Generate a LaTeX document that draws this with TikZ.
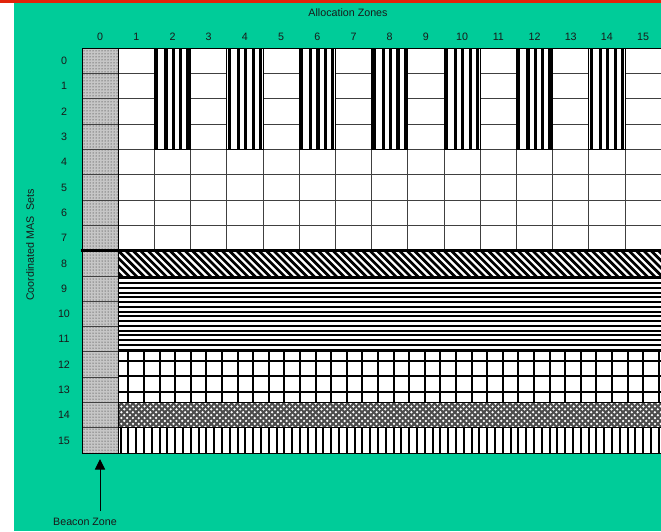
\documentclass[tikz,border=0pt]{standalone}
\usepackage{fontspec}
\setmainfont{Liberation Sans}
\usetikzlibrary{patterns,arrows.meta}
\definecolor{bggreen}{RGB}{0,204,153}
\definecolor{topred}{RGB}{226,35,10}
\begin{document}
\begin{tikzpicture}[x=1pt,y=-1pt,
  lab/.style={font=\fontsize{10.7}{12}\selectfont, inner sep=0pt, text=black!90},
  cellline/.style={draw=black!75, line width=0.9pt},
  bandline/.style={black, line width=2pt},
  bandborder/.style={draw=black, line width=1pt}]
\useasboundingbox (0,0) rectangle (661,531);
% background
\fill[white] (0,0) rectangle (661,531);
\fill[bggreen] (14,3) rectangle (661,531);
\fill[topred] (0,0) rectangle (661,3);
% rows 0-7 white cells
\fill[white] (118.3,48.3) rectangle (661,250.7);
\foreach \j in {1,...,7} \draw[cellline] (118.3,{48.3+\j*25.3}) -- (661,{48.3+\j*25.3});
\foreach \i in {1,...,16} \draw[cellline] ({82+\i*36.2},48.3) -- ({82+\i*36.2},250.7);
\draw[black, line width=1pt] (118.3,48.3) -- (661,48.3);
% striped columns rows 0-3
\foreach \i in {2,4,...,14} {
  \pgfmathsetmacro\L{82+\i*36.2}
  \fill[white] (\L,48.3) rectangle ({\L+36.2},149.5);
  \foreach \o in {2.3,11.5,18.8,26.3,33.6}
    \fill[black] ({\L+\o-1.6},48.3) rectangle ({\L+\o+1.6},149.5);
  \draw[black, line width=1pt] (\L,48.3) rectangle ({\L+36.2},149.5);
}
% row 8 diagonal band
\begin{scope}
  \clip (118.3,250.7) rectangle (661,276);
  \fill[white] (118.3,250.7) rectangle (661,276);
  \foreach \k in {-5,...,74}
    \draw[black, line width=2.7pt] ({116.3+\k*7.4},248.7) -- ({145.6+\k*7.4},278);
\end{scope}
\draw[bandborder] (118.3,250.7) rectangle (661,276);
% rows 9-11 horizontal stripes
\fill[white] (118.3,276) rectangle (661,351.9);
\foreach \k in {0,...,15} \draw[bandline] (118.3,{278.4+\k*4.75}) -- (661,{278.4+\k*4.75});
\draw[bandborder] (118.3,276) rectangle (661,351.9);
% rows 12-13 grid
\fill[white] (118.3,351.9) rectangle (661,402.5);
\foreach \k in {0,...,34} \draw[bandline] ({128.3+\k*15.6},351.9) -- ({128.3+\k*15.6},402.5);
\foreach \y in {360.7,376.3,391.9} \draw[bandline] (118.3,\y) -- (661,\y);
\draw[bandborder] (118.3,351.9) rectangle (661,402.5);
% row 14 crosshatch
\begin{scope}
  \clip (118.3,402.5) rectangle (661,427.8);
  \fill[white] (118.3,402.5) rectangle (661,427.8);
  \foreach \k in {-6,...,96} {
    \draw[black!70, line width=2pt] ({118.3+\k*5.8},400.5) -- ({147.6+\k*5.8},429.8);
    \draw[black!70, line width=2pt] ({118.3+\k*5.8},429.8) -- ({147.6+\k*5.8},400.5);
  }
\end{scope}
\draw[bandborder] (118.3,402.5) rectangle (661,427.8);
% row 15 vertical stripes
\fill[white] (118.3,427.8) rectangle (661,453.1);
\foreach \k in {0,...,69} \draw[bandline] ({120.5+\k*7.8},427.8) -- ({120.5+\k*7.8},453.1);
\draw[bandborder] (118.3,427.8) rectangle (661,453.1);
% beacon column 0
\fill[gray!45] (82,48.3) rectangle (118.3,453.1);
\fill[pattern=dots, pattern color=black!90] (82,48.3) rectangle (118.3,453.1);
\foreach \j in {1,...,15} \draw[cellline] (82,{48.3+\j*25.3}) -- (118.3,{48.3+\j*25.3});
\draw[black, line width=1pt] (82,48.3) rectangle (118.3,453.1);
% thick separator above row 8
\draw[black, line width=2.6pt] (80.5,250.7) -- (661,250.7);
% labels
\node[lab] (alloc) at (348,13) {Allocation Zones};
\foreach \i in {0,...,15} \node[lab] (col\i) at ({82+(\i+0.5)*36.2},37) {\i};
\foreach \j in {0,...,15} \node[lab] (row\j) at (64,{48.3+(\j+0.5)*25.3}) {\j};
\node[lab, rotate=90] (cmas) at (30,245) {Coordinated MAS\ \ Sets};
\node[lab] (beacon) at (85,522) {Beacon Zone};
\coordinate (arrtail) at (100,511);
\coordinate (arrhead) at (100,459);
\draw[black, line width=1pt, -{Triangle[length=10.5pt,width=10pt]}] (arrtail) -- (arrhead);
\end{tikzpicture}
\end{document}
